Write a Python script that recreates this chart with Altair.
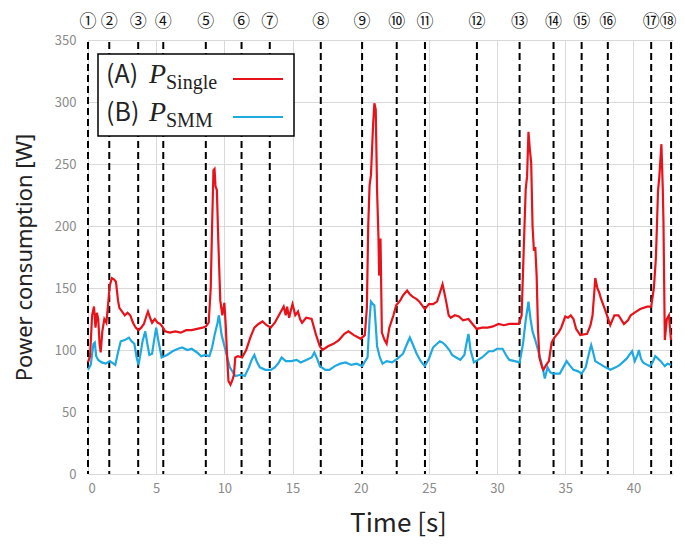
import altair as alt
import pandas as pd

# ---- data ----
red_t = [0.0, 0.15, 0.3, 0.44, 0.55, 0.65, 0.75, 0.85, 0.93, 1.05, 1.2, 1.35, 1.5, 1.6, 1.75, 1.9, 2.05, 2.2, 2.3, 2.5,
         2.7, 2.9, 3.1, 3.3, 3.5, 3.7, 3.9, 4.1, 4.3, 4.4, 4.55, 4.7, 4.9, 5.1, 5.3, 5.5, 5.65, 6.0, 6.4, 6.8,
         7.2, 7.6, 8.0, 8.4, 8.65, 8.85, 9.0, 9.1, 9.2, 9.28, 9.35, 9.45, 9.55, 9.7, 9.85, 10.0, 10.1, 10.2, 10.3, 10.45,
         10.6, 10.7, 10.8, 11.0, 11.3, 11.6, 11.9, 12.2, 12.5, 12.8, 13.1, 13.4, 13.7, 14.0, 14.2, 14.35, 14.5, 14.6, 14.75, 14.9,
         15.0, 15.2, 15.4, 15.55, 15.7, 16.0, 16.4, 16.7, 17.0, 17.2, 17.6, 18.0, 18.4, 18.8, 19.1, 19.5, 20.0, 20.3, 20.45, 20.55,
         20.65, 20.75, 20.9, 21.0, 21.1, 21.2, 21.3, 21.35, 21.45, 21.55, 21.75, 21.9, 22.1, 22.4, 22.6, 22.9, 23.1, 23.4, 23.6, 23.8,
         24.1, 24.3, 24.5, 24.7, 25.0, 25.3, 25.6, 25.8, 26.0, 26.1, 26.25, 26.45, 26.6, 26.9, 27.2, 27.5, 27.9, 28.2, 28.5, 28.9,
         29.3, 29.7, 30.1, 30.5, 30.9, 31.3, 31.6, 31.8, 31.95, 32.1, 32.2, 32.3, 32.4, 32.5, 32.6, 32.7, 32.8, 32.9, 33.0, 33.1,
         33.3, 33.4, 33.6, 33.8, 34.0, 34.2, 34.5, 34.7, 35.0, 35.2, 35.4, 35.6, 35.8, 36.1, 36.6, 36.85, 37.0, 37.15, 37.2, 37.35,
         37.5, 37.6, 37.8, 38.0, 38.3, 38.6, 38.9, 39.3, 39.6, 39.8, 40.2, 40.5, 41.0, 41.3, 41.5, 41.65, 41.8, 41.9, 42.05, 42.15,
         42.2, 42.3, 42.45, 42.6, 42.75]
red_w = [90, 95, 128, 135, 118, 130, 125, 105, 98, 115, 125, 122, 140, 152, 158, 157, 155, 140, 134, 131,
         128, 130, 128, 122, 118, 116, 118, 121, 128, 131, 126, 122, 125, 122, 121, 118, 115, 114, 115, 114,
         116, 116, 117, 118, 119, 122, 150, 200, 245, 246, 232, 229, 190, 140, 128, 138, 120, 95, 75, 72,
         76, 80, 94, 95, 94, 100, 110, 118, 121, 123, 120, 118, 122, 128, 132, 135, 128, 135, 126, 133,
         137, 128, 131, 125, 122, 126, 125, 113, 103, 100, 103, 105, 108, 113, 115, 112, 109, 112, 134, 200,
         233, 241, 280, 299, 294, 228, 191, 160, 190, 114, 108, 105, 118, 128, 136, 140, 144, 148, 145, 143,
         141, 139, 136, 133, 137, 137, 139, 146, 153, 148, 140, 128, 126, 128, 127, 124, 125, 121, 117, 118,
         118, 119, 121, 120, 121, 121, 121, 128, 180, 230, 240, 276, 262, 251, 200, 180, 183, 160, 117, 94,
         86, 84, 88, 91, 106, 110, 114, 118, 127, 126, 128, 125, 117, 112, 113, 120, 128, 150, 158, 150,
         146, 142, 136, 130, 120, 128, 128, 121, 124, 128, 131, 133, 135, 135, 150, 175, 228, 240, 266, 230,
         204, 108, 125, 128, 108]

blue_t = [0.0, 0.2, 0.4, 0.5, 0.6, 0.75, 1.0, 1.3, 1.6, 2.0, 2.2, 2.4, 2.7, 3.0, 3.2, 3.4, 3.55, 3.7, 3.85, 4.0,
          4.2, 4.35, 4.5, 4.7, 4.85, 5.0, 5.15, 5.4, 5.8, 6.2, 6.6, 6.9, 7.3, 7.6, 8.0, 8.3, 8.6, 8.9, 9.1, 9.3,
          9.5, 9.6, 9.7, 9.8, 10.1, 10.4, 10.8, 11.2, 11.5, 11.8, 12.0, 12.2, 12.4, 12.6, 13.0, 13.4, 13.7, 14.0, 14.2, 14.5,
          14.9, 15.3, 15.6, 16.0, 16.4, 16.6, 16.8, 17.0, 17.4, 17.7, 18.1, 18.5, 18.9, 19.3, 19.7, 20.1, 20.5, 20.65, 20.75, 20.9,
          21.0, 21.1, 21.2, 21.4, 21.6, 21.9, 22.3, 22.7, 23.1, 23.4, 23.6, 23.8, 24.1, 24.4, 24.7, 25.0, 25.3, 25.6, 25.8, 26.0,
          26.2, 26.5, 26.7, 27.0, 27.3, 27.6, 27.75, 27.9, 28.05, 28.3, 28.6, 28.9, 29.2, 29.4, 29.7, 30.0, 30.4, 30.7, 30.9, 31.3,
          31.65, 31.9, 32.1, 32.3, 32.45, 32.6, 32.8, 33.0, 33.2, 33.35, 33.5, 33.7, 33.9, 34.1, 34.6, 34.9, 35.1, 35.3, 35.6, 35.9,
          36.2, 36.5, 36.6, 36.8, 36.9, 37.0, 37.2, 37.5, 37.8, 38.3, 38.7, 39.0, 39.3, 39.5, 39.7, 39.9, 40.1, 40.3, 40.4, 40.55,
          40.7, 41.0, 41.2, 41.4, 41.6, 41.8, 42.0, 42.3, 42.5, 42.75]
blue_w = [84, 88, 105, 106, 95, 92, 90, 89, 91, 88, 98, 107, 108, 110, 107, 105, 95, 88, 97, 107,
          115, 105, 96, 97, 108, 118, 108, 94, 96, 99, 101, 102, 100, 101, 98, 95, 96, 95, 102, 113,
          122, 128, 120, 112, 99, 86, 79, 80, 79, 86, 92, 96, 90, 86, 84, 84, 86, 90, 94, 91,
          91, 92, 90, 92, 94, 98, 93, 87, 84, 84, 87, 89, 90, 88, 89, 87, 94, 125, 139, 137,
          136, 120, 103, 94, 89, 91, 90, 93, 97, 105, 110, 105, 97, 91, 87, 93, 102, 105, 107, 106,
          104, 100, 96, 94, 92, 96, 105, 113, 100, 90, 92, 94, 97, 99, 99, 101, 101, 95, 92, 91,
          90, 105, 124, 139, 125, 115, 108, 100, 92, 85, 77, 86, 82, 81, 81, 87, 91, 88, 84, 83,
          81, 86, 91, 100, 104, 100, 91, 89, 87, 84, 86, 88, 91, 93, 96, 99, 91, 96, 100, 93,
          90, 88, 87, 90, 95, 93, 91, 87, 89, 88]

event_t = [0.0, 1.56, 3.68, 5.52, 8.64, 11.26, 13.33, 17.07, 20.1, 22.64, 24.71, 28.52, 31.65, 34.14, 36.2, 38.12, 41.3, 42.76]
event_labels = ["①", "②", "③", "④", "⑤", "⑥", "⑦", "⑧", "⑨", "⑩", "⑪", "⑫", "⑬", "⑭", "⑮", "⑯", "⑰", "⑱"]

x_ticks = [0, 5, 10, 15, 20, 25, 30, 35, 40]
y_ticks = [0, 50, 100, 150, 200, 250, 300, 350]

legend_prefix = ["(A)", "(B)"]
legend_var = ["P", "P"]
legend_sub = ["Single", "SMM"]

RED = "#e8121a"
BLUE = "#1ea9e1"
W, H = 585, 434
XMAX = 42.9

red_df = pd.DataFrame({"t": red_t, "w": red_w})
blue_df = pd.DataFrame({"t": blue_t, "w": blue_w})
ev_df = pd.DataFrame({"t": event_t, "label": event_labels})

xs = alt.Scale(domain=[0, XMAX], nice=False, zero=False)
ys = alt.Scale(domain=[0, 350], nice=False)
font = "Noto Sans CJK JP"

x_axis = alt.Axis(values=x_ticks, title="Time [s]", grid=True, gridColor="#d9d9d9", domain=False, ticks=False,
                  labelColor="#8a8a8a", labelFont=font, labelFontSize=13, labelPadding=8,
                  titleFont=font, titleFontSize=26, titleFontWeight="normal", titleColor="#222",
                  titleX=310, titleY=57, titleBaseline="alphabetic", titleAlign="center")
y_axis = alt.Axis(values=y_ticks, title="Power consumption [W]", grid=True, gridColor="#d9d9d9", domain=False,
                  ticks=False, labelColor="#8a8a8a", labelFont=font, labelFontSize=13, labelPadding=12,
                  titleFont="Noto Sans", titleFontSize=22, titleFontWeight="normal", titleColor="#222",
                  titleX=-57, titleY=H / 2, titleAngle=-90, titleBaseline="alphabetic", titleAlign="center")

base_grid = alt.Chart(red_df).mark_line(opacity=0).encode(
    x=alt.X("t:Q", scale=xs, axis=x_axis),
    y=alt.Y("w:Q", scale=ys, axis=y_axis),
)

red_line = alt.Chart(red_df).mark_line(color=RED, strokeWidth=2.2, interpolate="linear").encode(
    x=alt.X("t:Q", scale=xs), y=alt.Y("w:Q", scale=ys))
blue_line = alt.Chart(blue_df).mark_line(color=BLUE, strokeWidth=2.2, interpolate="linear").encode(
    x=alt.X("t:Q", scale=xs), y=alt.Y("w:Q", scale=ys))

events = alt.Chart(ev_df).mark_rule(color="black", strokeWidth=2, strokeDash=[7, 4]).encode(
    x=alt.X("t:Q", scale=xs), y=alt.value(2), y2=alt.value(H))
event_text = alt.Chart(ev_df).transform_filter("datum.t < 42").mark_text(
    font=font, fontSize=17, color="#111", baseline="middle").encode(
    x=alt.X("t:Q", scale=xs), y=alt.value(-18), text="label:N")
event_text_last = alt.Chart(ev_df).transform_filter("datum.t >= 42").mark_text(
    font=font, fontSize=17, color="#111", baseline="middle", dx=-3).encode(
    x=alt.X("t:Q", scale=xs), y=alt.value(-18), text="label:N")

# legend (hand drawn box)
leg_box = alt.Chart(pd.DataFrame({"a": [0]})).mark_rect(fill="white", stroke="black", strokeWidth=1.5).encode(
    x=alt.value(10), x2=alt.value(206), y=alt.value(14), y2=alt.value(96))
leg_df = pd.DataFrame({"pre": legend_prefix, "var": legend_var, "sub": legend_sub,
                       "yb": [43, 81], "ys": [49, 87], "yl": [39, 77], "c": [RED, BLUE]})
leg_pre = alt.Chart(leg_df).mark_text(font=font, fontSize=25, align="left", baseline="alphabetic", color="#222").encode(
    x=alt.value(18), y=alt.Y("yb:Q", scale=None), text="pre:N")
leg_var = alt.Chart(leg_df).mark_text(font="Liberation Serif", fontStyle="italic", fontSize=28, align="left",
                                     baseline="alphabetic", color="#222").encode(
    x=alt.value(61), y=alt.Y("yb:Q", scale=None), text="var:N")
leg_sub = alt.Chart(leg_df).mark_text(font="Liberation Serif", fontSize=20, align="left",
                                     baseline="alphabetic", color="#222").encode(
    x=alt.value(78), y=alt.Y("ys:Q", scale=None), text="sub:N")
leg_lines = alt.Chart(leg_df).mark_rule(strokeWidth=2).encode(
    x=alt.value(145), x2=alt.value(195), y=alt.Y("yl:Q", scale=None), color=alt.Color("c:N", scale=None))

chart = alt.layer(
    base_grid, events, blue_line, red_line, event_text, event_text_last,
    leg_box, leg_pre, leg_var, leg_sub, leg_lines
).properties(
    width=W, height=H,
    padding={"left": 80, "top": 32, "right": 4, "bottom": 64},
    autosize=alt.AutoSizeParams(type="none"),
).configure_view(stroke=None).configure_axis(labelOverlap=False)

chart.save("out.html", embed_options={"renderer": "svg", "actions": False})
